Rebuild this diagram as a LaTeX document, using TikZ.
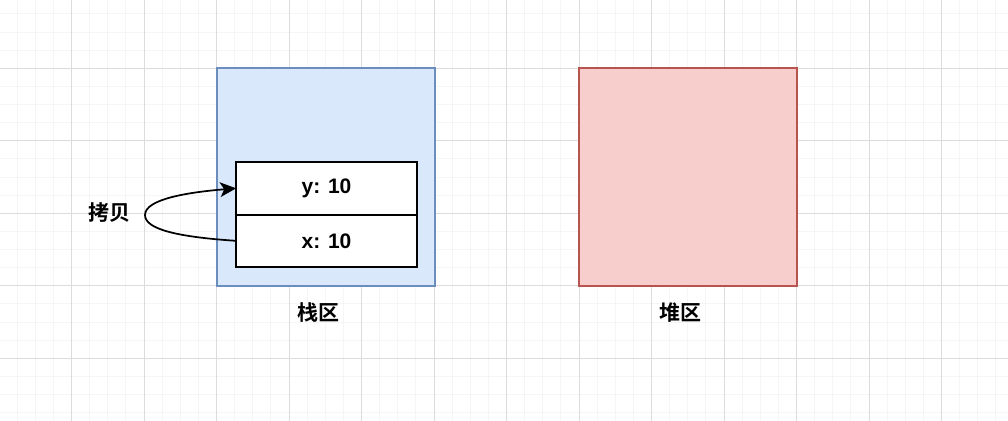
\documentclass[tikz,border=0pt]{standalone}
\usepackage{fontspec}
\setmainfont{Liberation Sans}
\newfontfamily\cjkb{Noto Sans CJK SC Bold}
\usepackage{tikz}
\usetikzlibrary{arrows.meta,positioning}
\definecolor{stackfill}{HTML}{DAE8FC}
\definecolor{stackline}{HTML}{6C8EBF}
\definecolor{heapfill}{HTML}{F8CECC}
\definecolor{heapline}{HTML}{B85450}
\definecolor{gridminor}{HTML}{F5F5F5}
\definecolor{gridmajor}{HTML}{DCDCDC}
\tikzset{
  stackbox/.style={draw=stackline, fill=stackfill, line width=1.5pt,
                   minimum width=163pt, minimum height=163pt, inner sep=0pt},
  heapbox/.style ={draw=heapline, fill=heapfill, line width=1.5pt,
                   minimum width=163pt, minimum height=163pt, inner sep=0pt},
  cell/.style    ={draw, fill=white, line width=1.5pt, minimum width=135.5pt,
                   minimum height=39.4pt, inner sep=0pt, outer sep=0pt,
                   font=\fontsize{15.75}{18}\selectfont\bfseries},
  lab/.style     ={font=\fontsize{15.75}{18}\selectfont\cjkb, inner sep=0pt},
  copyarr/.style ={-{Stealth[length=12pt,width=11pt,inset=3pt]}, line width=1.3pt},
  gmin/.style    ={gridminor, line width=0.75pt},
  gmaj/.style    ={gridmajor, line width=0.75pt},
}
\begin{document}
\begin{tikzpicture}[x=0.75pt, y=-0.75pt]
  \useasboundingbox[fill=white] (0,0) rectangle (1008,421);
  % background grid: minor 18.125px, major 72.5px
  \foreach \k in {0,...,56} {
    \draw[gmin] ({-1+18.125*\k},0) -- ({-1+18.125*\k},421);
  }
  \foreach \k in {0,...,24} {
    \draw[gmin] (0,{-4.2+18.125*\k}) -- (1008,{-4.2+18.125*\k});
  }
  \foreach \k in {0,...,14} {
    \draw[gmaj] ({-1+72.5*\k},0) -- ({-1+72.5*\k},421);
  }
  \foreach \k in {0,...,6} {
    \draw[gmaj] (0,{-4.2+72.5*\k}) -- (1008,{-4.2+72.5*\k});
  }
  % regions
  \node[stackbox] (stack) at (326,177) {};
  \node[heapbox]  (heap)  at (688,177) {};
  \node[lab] (stacklbl) at (318,313) {栈区};
  \node[lab] (heaplbl)  at (680,313) {堆区};
  % variables on the stack
  \node[cell] (ycell) at (326.5,188.3) {y: 10};
  \node[cell, below=0pt of ycell] (xcell) {x: 10};
  % copy arrow
  \node[lab] (copylbl) at (109,213) {拷贝};
  \coordinate (bend) at (145,215);
  \draw[copyarr] (xcell.west) .. controls +(-60,-4) and +(0,14) .. (bend)
    .. controls +(0,-16) and +(-48,4) .. (ycell.west);
\end{tikzpicture}
\end{document}
